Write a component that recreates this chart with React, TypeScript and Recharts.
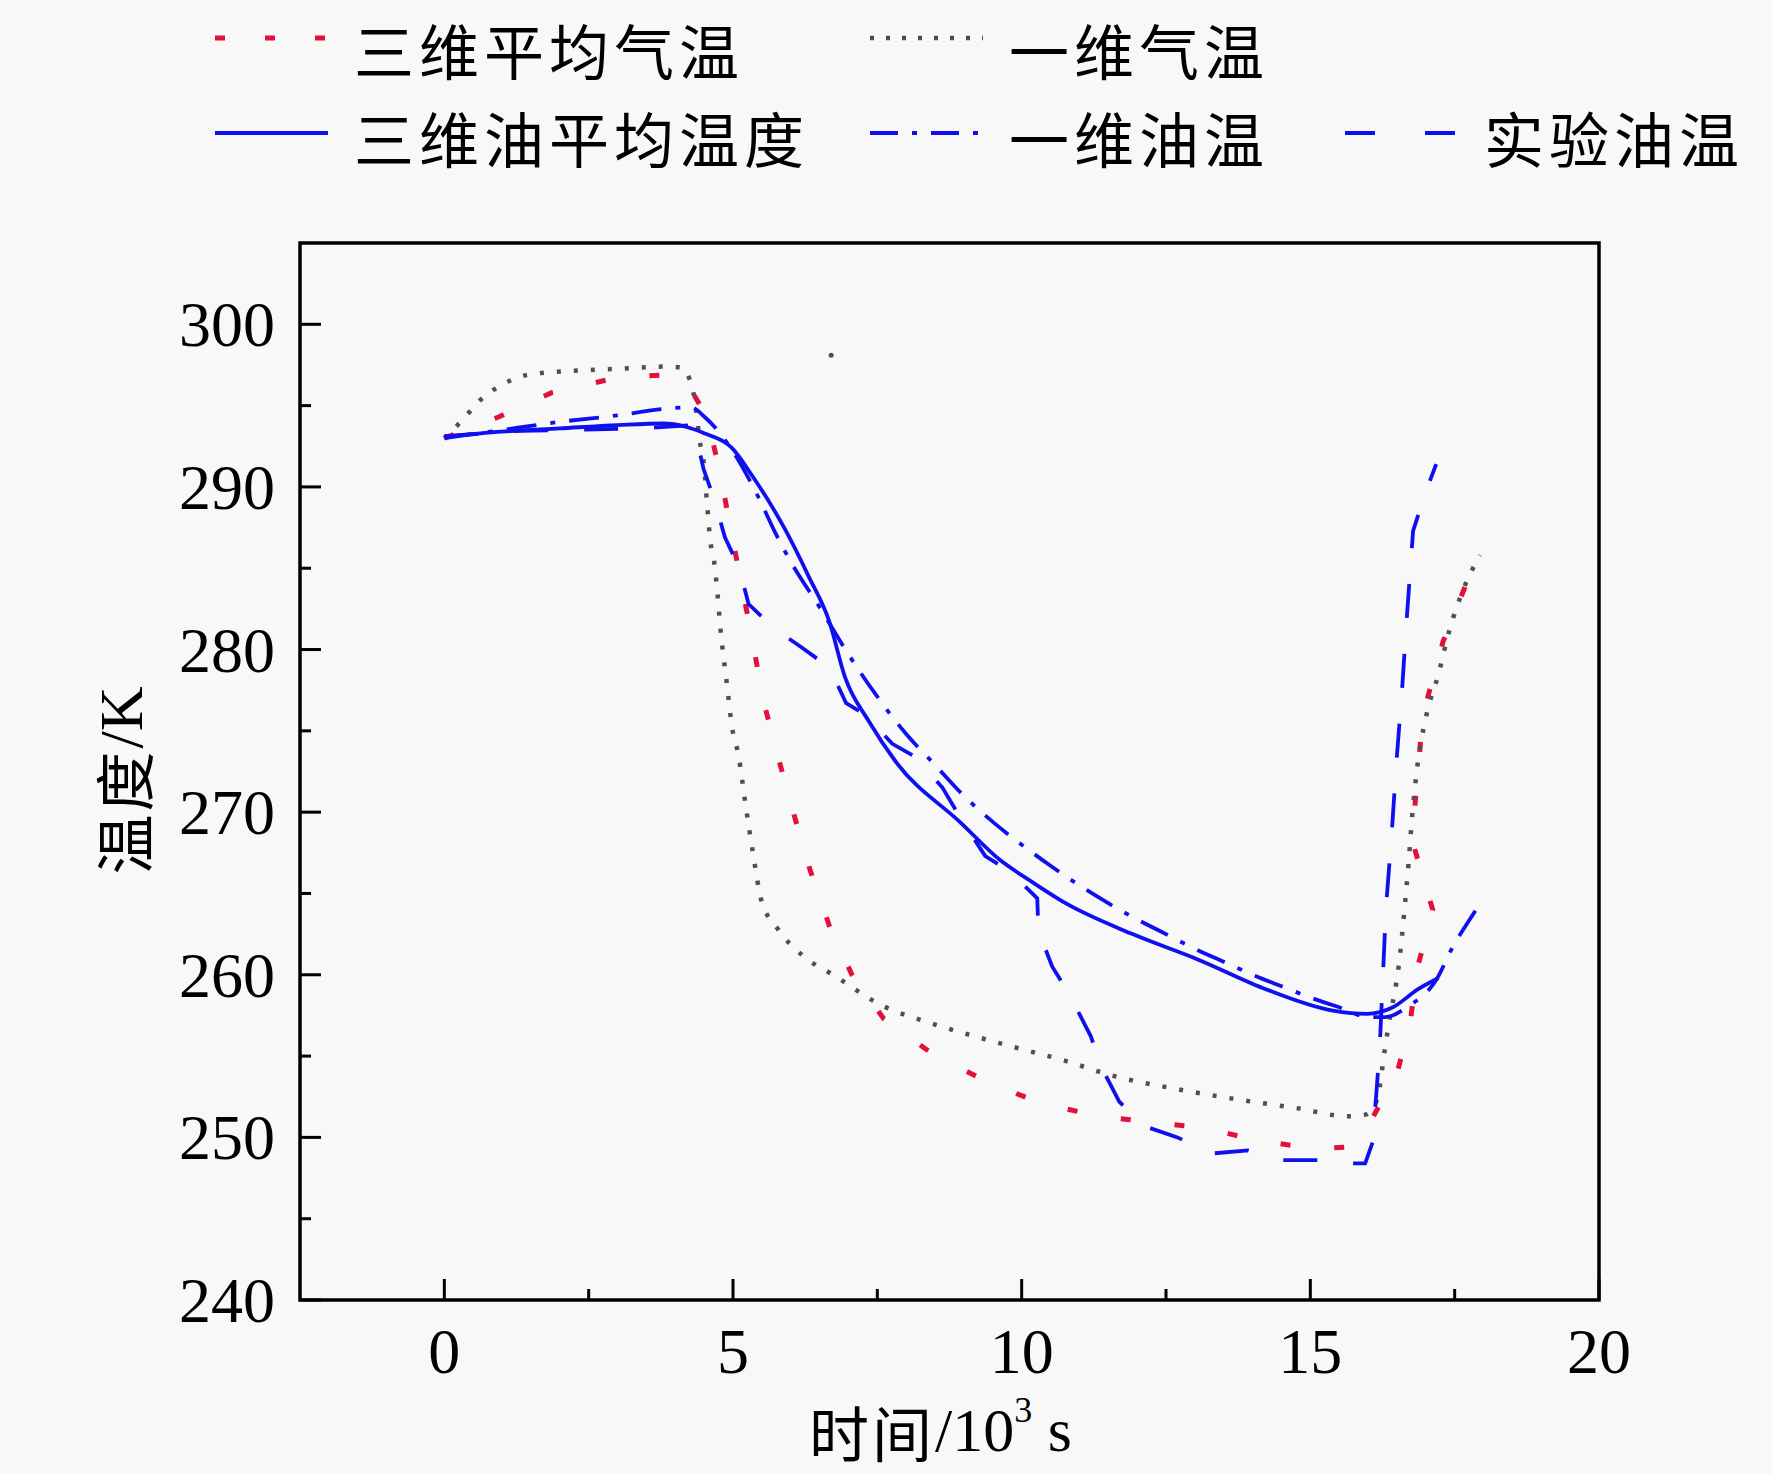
import { LineChart, Line, XAxis, YAxis, ReferenceArea, Legend } from "recharts"

// 三维平均气温
const air3dX = [0, 0.94, 1.86, 2.84, 3.4, 3.84, 4.1, 4.3, 4.55, 4.78, 4.96, 5.16, 5.35, 5.53, 5.78, 6.06, 6.33, 6.67, 7.06, 7.61, 8.47, 9.41, 10.33, 11.35, 12.33, 13.14, 14.1, 15.1, 15.6, 15.94, 16.2, 16.47, 16.73, 16.86, 17.12, 16.76, 16.95, 17.3, 17.73]
const air3dY = [293.0, 294.3, 295.8, 296.6, 296.8, 296.9, 296.7, 295.8, 294.3, 290.8, 287.4, 283.8, 280.3, 276.8, 273.4, 269.8, 266.5, 263.0, 260.0, 257.3, 255.1, 253.4, 252.1, 251.3, 250.9, 250.6, 249.8, 249.3, 249.4, 250.3, 252.0, 253.5, 257.1, 260.5, 264.0, 268.3, 276.0, 280.5, 284.3]

// 一维气温
const air1dX = [0, 0.31, 0.61, 0.96, 1.45, 2.04, 2.6, 3.2, 3.82, 4.1, 4.25, 4.33, 4.43, 4.49, 4.55, 4.61, 4.67, 4.73, 4.78, 4.84, 4.88, 4.98, 5.1, 5.22, 5.35, 5.49, 5.78, 6.2, 6.78, 7.53, 8.45, 9.61, 10.76, 11.57, 12.8, 13.8, 14.76, 15.65, 15.95, 16.1, 16.17, 16.29, 16.4, 16.47, 16.55, 16.63, 16.7, 16.76, 16.86, 17.0, 17.22, 17.41, 17.65, 17.94]
const air1dY = [293.0, 294.1, 295.3, 296.2, 296.9, 297.1, 297.2, 297.3, 297.4, 297.35, 296.6, 295.5, 292.7, 291.6, 289.0, 286.6, 285.5, 283.5, 281.4, 279.4, 278.3, 275.3, 273.4, 270.4, 267.4, 264.6, 262.8, 261.2, 259.9, 258.2, 257.0, 255.8, 254.7, 253.8, 252.9, 252.3, 251.8, 251.3, 251.4, 251.9, 252.5, 255.4, 257.8, 259.1, 261.1, 264.0, 266.8, 269.6, 273.0, 275.8, 278.5, 281.2, 283.7, 285.8]
const strayX = [6.7]
const strayY = [298.1]

// 三维油平均温度
const oil3dX = [0, 1, 2, 3, 3.8, 4.18, 4.5, 4.98, 5.33, 5.9, 6.31, 6.67, 6.94, 7.35, 7.82, 8.96, 9.61, 10.14, 10.76, 11.92, 13.08, 14.24, 15.39, 15.98, 16.43, 16.86, 17.22]
const oil3dY = [293.1, 293.4, 293.6, 293.8, 293.9, 293.7, 293.3, 292.4, 290.7, 287.4, 284.5, 281.7, 278.3, 275.6, 273.1, 269.3, 267.1, 265.8, 264.4, 262.5, 260.9, 259.1, 257.8, 257.6, 258.0, 259.1, 259.8]

// 一维油温
const oil1dX = [0, 1, 2, 3, 3.82, 4.27, 4.51, 4.92, 5.45, 5.73, 6.0, 6.5, 7.0, 7.5, 8.0, 8.5, 9.0, 9.5, 10.0, 10.5, 11.0, 11.5, 12.0, 12.5, 13.0, 13.5, 14.0, 14.5, 15.0, 15.5, 16.02, 16.3, 16.67, 17.2, 17.45, 17.78, 17.98]
const oil1dY = [293.0, 293.5, 294.0, 294.4, 294.8, 294.9, 294.3, 292.6, 289.3, 287.2, 285.4, 282.6, 279.7, 277.1, 274.8, 272.9, 271.0, 269.4, 268.0, 266.7, 265.5, 264.4, 263.4, 262.5, 261.6, 260.8, 260.0, 259.3, 258.6, 258.0, 257.4, 257.4, 258.0, 259.8, 261.6, 263.5, 264.6]

// 实验油温
const oilExpX = [0, 1.3, 3.4, 4.3, 4.4, 4.49, 4.67, 4.86, 5.1, 5.27, 5.71, 6.16, 6.67, 6.96, 7.29, 7.76, 8.16, 8.63, 8.98, 9.37, 9.78, 10.27, 10.29, 10.53, 10.84, 11.2, 11.37, 11.69, 12.12, 12.7, 13.27, 13.92, 14.49, 15.16, 15.7, 15.95, 16.08, 16.2, 16.31, 16.41, 16.49, 16.59, 16.67, 16.78, 17.0, 17.18]
const oilExpY = [293.1, 293.45, 293.6, 293.8, 292.5, 291.1, 289.3, 286.9, 285.1, 282.8, 281.3, 280.2, 278.9, 276.7, 276.0, 274.2, 273.4, 271.5, 269.4, 267.3, 266.4, 264.7, 262.7, 260.5, 258.7, 256.2, 254.4, 252.2, 250.7, 250.0, 249.0, 249.2, 248.6, 248.6, 248.4, 248.4, 249.7, 255.4, 264.1, 268.7, 273.0, 277.6, 281.9, 287.3, 289.7, 291.4]

const seriesNames = ["三维平均气温", "一维气温", "三维油平均温度", "一维油温", "实验油温"]
const xTicks = [0, 2.5, 5, 7.5, 10, 12.5, 15, 17.5, 20]
const yTicks = [240, 245, 250, 255, 260, 265, 270, 275, 280, 285, 290, 295, 300]

const toPoints = (xs: number[], ys: number[]) => xs.map((x, i) => ({ x, y: ys[i] }))

const RED = "#e3103c"
const GRAY = "#505050"
const BLUE = "#1010ee"
const SERIF = '"Liberation Serif", "Times New Roman", serif'
const CJK = '"Noto Sans CJK SC", sans-serif'

const styles = [
  { color: RED, dash: "10 44", width: 5, legendDash: "10 40" },
  { color: GRAY, dash: "4 13", width: 4.5, legendDash: "4 12" },
  { color: BLUE, dash: undefined, width: 3.8, legendDash: undefined },
  { color: BLUE, dash: "30 14 5 14", width: 3.8, legendDash: "28 14 5 14" },
  { color: BLUE, dash: "34 36", width: 3.8, legendDash: "30 50" },
]

// legend slots: [sampleX, textX, lineY, textY]
const legendSlots = [
  [215, 354, 38, 48],
  [870, 1009, 38, 48],
  [215, 354, 133, 136],
  [870, 1009, 133, 136],
  [1345, 1484, 133, 136],
]

function LegendBox() {
  return (
    <svg width={1772} height={200}>
      {seriesNames.map((name, i) => {
        const [sx, tx, ly, ty] = legendSlots[i]
        const s = styles[i]
        return (
          <g key={name}>
            <line x1={sx} x2={sx + 113} y1={ly} y2={ly} stroke={s.color} strokeWidth={s.width}
              strokeDasharray={s.legendDash} />
            <text x={tx} y={ty} dominantBaseline="central" fontFamily={CJK} fontSize={60} letterSpacing={5} fill="#000">
              {name}
            </text>
          </g>
        )
      })}
    </svg>
  )
}

function XTick(props: any) {
  const { x, y, payload } = props
  const v = payload.value
  const major = v % 5 === 0
  return (
    <g>
      <line x1={x} x2={x} y1={y} y2={y - (major ? 21 : 11)} stroke="#000" strokeWidth={3} />
      {major && (
        <text x={x} y={y + 73} textAnchor="middle" fontFamily={SERIF} fontSize={64} fill="#000">
          {v}
        </text>
      )}
    </g>
  )
}

function YTick(props: any) {
  const { x, y, payload } = props
  const v = payload.value
  const major = v % 10 === 0
  return (
    <g>
      <line x1={x} x2={x + (major ? 21 : 11)} y1={y} y2={y} stroke="#000" strokeWidth={3} />
      {major && (
        <text x={x - 25} y={y + 22} textAnchor="end" fontFamily={SERIF} fontSize={64} fill="#000">
          {v}
        </text>
      )}
    </g>
  )
}

function XTitle(props: any) {
  const { viewBox } = props
  const cx = viewBox.x + viewBox.width / 2 - 9
  const cy = viewBox.y + 130
  return (
    <text x={cx} y={cy} textAnchor="middle" dominantBaseline="central" fill="#000" fontSize={60}>
      <tspan fontFamily={CJK} letterSpacing={3}>时间</tspan>
      <tspan fontFamily={SERIF} fontSize={62}>/10</tspan>
      <tspan fontFamily={SERIF} fontSize={36} dy={-20}>3</tspan>
      <tspan fontFamily={SERIF} fontSize={62} dy={20}> s</tspan>
    </text>
  )
}

function YTitle(props: any) {
  const { viewBox } = props
  const cx = 121
  const cy = viewBox.y + viewBox.height / 2 + 9
  return (
    <text x={cx} y={cy} textAnchor="middle" dominantBaseline="central" fill="#000" fontSize={60}
      transform={`rotate(-90, ${cx}, ${cy})`}>
      <tspan fontFamily={CJK} letterSpacing={3}>温度</tspan>
      <tspan fontFamily={SERIF} fontSize={62}>/K</tspan>
    </text>
  )
}

export default function App() {
  const lines = [
    toPoints(air3dX, air3dY),
    toPoints(air1dX, air1dY),
    toPoints(oil3dX, oil3dY),
    toPoints(oil1dX, oil1dY),
    toPoints(oilExpX, oilExpY),
  ]
  const curveTypes = ["linear", "monotone", "monotone", "monotone", "linear"] as const
  return (
    <div style={{ width: 1772, height: 1474, background: "#f8f8f8" }}>
      <style>{`body{margin:0;background:#f8f8f8}`}</style>
      <LineChart width={1772} height={1474} margin={{ top: 243, right: 173, bottom: 0, left: 0 }}>
        <XAxis type="number" dataKey="x" domain={[-2.5, 20]} ticks={xTicks} interval={0}
          axisLine={false} tickLine={false} tickSize={0} tickMargin={0} height={174}
          tick={<XTick />} allowDataOverflow label={<XTitle />} />
        <YAxis type="number" dataKey="y" domain={[240, 305]} ticks={yTicks} interval={0}
          axisLine={false} tickLine={false} tickSize={0} tickMargin={0} width={300}
          tick={<YTick />} allowDataOverflow label={<YTitle />} />
        <ReferenceArea x1={-2.5} x2={20} y1={240} y2={305} fill="none" fillOpacity={0}
          stroke="#000" strokeWidth={3.5} />
        <Legend layout="horizontal" verticalAlign="middle" align="center"
          wrapperStyle={{ top: 0, left: 0, width: 1772, height: 200 }} content={() => <LegendBox />} />
        {lines.map((pts, i) => (
          <Line key={seriesNames[i]} name={seriesNames[i]} data={pts} dataKey="y" type={curveTypes[i]}
            stroke={styles[i].color} strokeWidth={styles[i].width} strokeDasharray={styles[i].dash}
            dot={false} activeDot={false} isAnimationActive={false} />
        ))}
        <Line data={toPoints(strayX, strayY)} dataKey="y" stroke="none" legendType="none"
          dot={{ r: 2.5, fill: GRAY, stroke: "none" }} activeDot={false} isAnimationActive={false} />
      </LineChart>
    </div>
  )
}
